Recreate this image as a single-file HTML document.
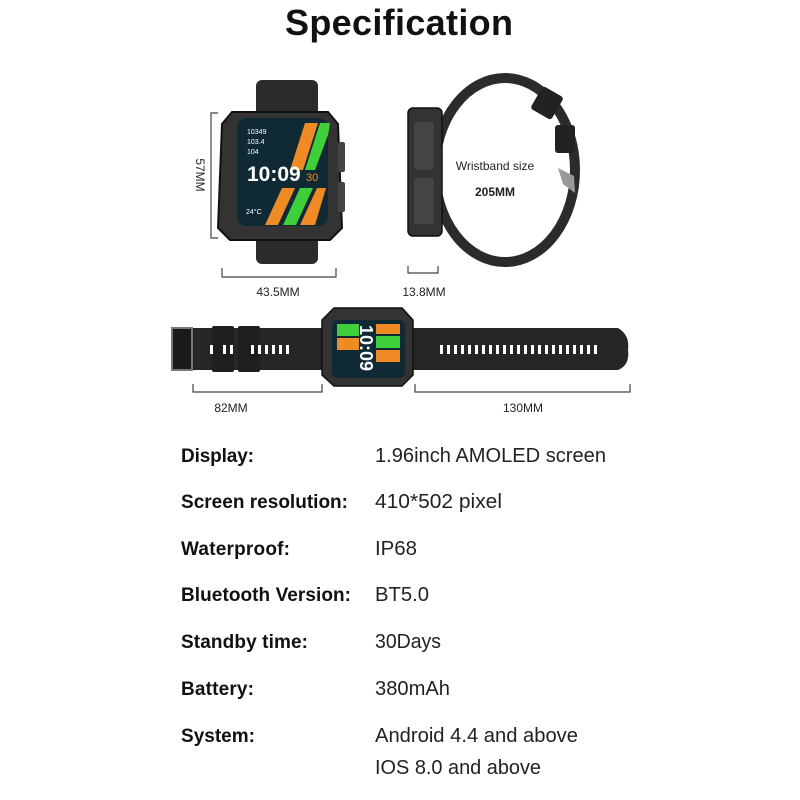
<!DOCTYPE html>
<html><head><meta charset="utf-8"><style>html,body{margin:0;padding:0;background:#fff}svg{display:block}</style></head>
<body>
<svg width="800" height="800" viewBox="0 0 800 800" xmlns="http://www.w3.org/2000/svg" font-family="Liberation Sans, sans-serif">
<rect width="800" height="800" fill="#fff"/>
<text x="399" y="35" text-anchor="middle" font-size="36" font-weight="bold" fill="#111" textLength="228">Specification</text>

<!-- front watch -->
<rect x="256" y="80" width="62" height="36" rx="6" fill="#2b2b2b"/>
<rect x="256" y="232" width="62" height="32" rx="6" fill="#2b2b2b"/>
<path d="M232 112 L328 112 L338 124 L342 228 L330 240 L230 240 L218 228 L222 124 Z" fill="#333" stroke="#111" stroke-width="2"/>
<rect x="338" y="142" width="7" height="30" rx="2" fill="#444"/>
<rect x="338" y="182" width="7" height="30" rx="2" fill="#444"/>
<rect x="237" y="118" width="91" height="108" rx="10" fill="#0f2a35"/>
<polygon points="290,170 305,123 318,123 303,170" fill="#f08a24"/>
<polygon points="305,170 320,123 330,123 328,135 315,170" fill="#3fcf3a"/>
<polygon points="265,225 282,188 295,188 278,225" fill="#f08a24"/>
<polygon points="283,225 300,188 313,188 296,225" fill="#3fcf3a"/>
<polygon points="300,225 317,188 326,188 315,225" fill="#f08a24"/>
<text x="247" y="134" font-size="7" fill="#fff">10349</text>
<text x="247" y="144" font-size="7" fill="#fff">103.4</text>
<text x="247" y="154" font-size="7" fill="#fff">104</text>
<text x="247" y="181" font-size="21" font-weight="bold" fill="#fff">10:09</text>
<text x="306" y="181" font-size="11" fill="#f08a24">30</text>
<text x="246" y="214" font-size="7" fill="#fff">24°C</text>
<!-- 57MM -->
<path d="M218 113 H211 V238 H218" fill="none" stroke="#444" stroke-width="1.2"/>
<text transform="translate(196,175) rotate(90)" text-anchor="middle" font-size="12" fill="#222">57MM</text>
<path d="M222 268 V277 H336 V268" fill="none" stroke="#444" stroke-width="1.2"/>
<text x="278" y="296" text-anchor="middle" font-size="12" fill="#222">43.5MM</text>

<!-- side watch -->
<ellipse cx="505" cy="170" rx="70" ry="92" fill="none" stroke="#2b2b2b" stroke-width="10"/>
<rect x="535" y="90" width="24" height="26" rx="3" fill="#222" transform="rotate(30 547 103)"/>
<rect x="555" y="125" width="20" height="28" rx="3" fill="#222"/>
<polygon points="558,168 574,176 575,193 563,184" fill="#999"/>
<rect x="408" y="108" width="34" height="128" rx="5" fill="#333" stroke="#111" stroke-width="1.5"/>
<rect x="414" y="122" width="20" height="48" rx="3" fill="#444"/>
<rect x="414" y="178" width="20" height="46" rx="3" fill="#444"/>
<text x="495" y="170" text-anchor="middle" font-size="12" fill="#222">Wristband size</text>
<text x="495" y="196" text-anchor="middle" font-size="12" font-weight="bold" fill="#222">205MM</text>
<path d="M408 266 V273 H438 V266" fill="none" stroke="#444" stroke-width="1.2"/>
<text x="424" y="296" text-anchor="middle" font-size="12" fill="#222">13.8MM</text>

<!-- horizontal band -->
<path d="M172 328 H618 Q630 335 628 350 Q630 365 618 370 H172 Z" fill="#262626"/>
<rect x="172" y="328" width="20" height="42" fill="#1a1a1a" stroke="#777" stroke-width="2"/>
<rect x="212" y="326" width="22" height="46" rx="2" fill="#1e1e1e"/>
<rect x="238" y="326" width="22" height="46" rx="2" fill="#1e1e1e"/>
<g fill="#fff">
<rect x="210" y="345" width="3" height="9"/><rect x="223" y="345" width="3" height="9"/><rect x="230" y="345" width="3" height="9"/>
<rect x="251" y="345" width="3" height="9"/><rect x="258" y="345" width="3" height="9"/><rect x="265" y="345" width="3" height="9"/><rect x="272" y="345" width="3" height="9"/><rect x="279" y="345" width="3" height="9"/><rect x="286" y="345" width="3" height="9"/>
</g>
<g fill="#fff">
<rect x="440" y="345" width="3" height="9"/><rect x="447" y="345" width="3" height="9"/><rect x="454" y="345" width="3" height="9"/><rect x="461" y="345" width="3" height="9"/><rect x="468" y="345" width="3" height="9"/><rect x="475" y="345" width="3" height="9"/><rect x="482" y="345" width="3" height="9"/><rect x="489" y="345" width="3" height="9"/><rect x="496" y="345" width="3" height="9"/><rect x="503" y="345" width="3" height="9"/><rect x="510" y="345" width="3" height="9"/><rect x="517" y="345" width="3" height="9"/><rect x="524" y="345" width="3" height="9"/><rect x="531" y="345" width="3" height="9"/><rect x="538" y="345" width="3" height="9"/><rect x="545" y="345" width="3" height="9"/><rect x="552" y="345" width="3" height="9"/><rect x="559" y="345" width="3" height="9"/><rect x="566" y="345" width="3" height="9"/><rect x="573" y="345" width="3" height="9"/><rect x="580" y="345" width="3" height="9"/><rect x="587" y="345" width="3" height="9"/><rect x="594" y="345" width="3" height="9"/>
</g>
<path d="M334 308 L402 308 L413 320 L413 375 L402 386 L334 386 L322 375 L322 320 Z" fill="#333" stroke="#111" stroke-width="1.5"/>
<rect x="332" y="320" width="73" height="58" rx="6" fill="#0f2a35"/>
<rect x="337" y="324" width="22" height="12" fill="#3fcf3a"/>
<rect x="337" y="338" width="22" height="12" fill="#f08a24"/>
<rect x="376" y="324" width="24" height="10" fill="#f08a24"/>
<rect x="376" y="336" width="24" height="12" fill="#3fcf3a"/>
<rect x="376" y="350" width="24" height="12" fill="#f08a24"/>
<text transform="translate(360,325) rotate(90)" font-size="18" font-weight="bold" fill="#fff">10:09</text>
<path d="M193 384 V392 H322 V384" fill="none" stroke="#444" stroke-width="1.2"/>
<text x="231" y="412" text-anchor="middle" font-size="12" fill="#222">82MM</text>
<path d="M415 384 V392 H630 V384" fill="none" stroke="#444" stroke-width="1.2"/>
<text x="523" y="412" text-anchor="middle" font-size="12" fill="#222">130MM</text>

<!-- specs -->
<g font-size="19" fill="#111" font-weight="bold">
<text x="181" y="462" textLength="73">Display:</text>
<text x="181" y="508" textLength="167">Screen resolution:</text>
<text x="181" y="555" textLength="109">Waterproof:</text>
<text x="181" y="601" textLength="170">Bluetooth Version:</text>
<text x="181" y="648" textLength="127">Standby time:</text>
<text x="181" y="695" textLength="73">Battery:</text>
<text x="181" y="742" textLength="74">System:</text>
</g>
<g font-size="20" fill="#222">
<text x="375" y="462" textLength="231" lengthAdjust="spacingAndGlyphs">1.96inch AMOLED screen</text>
<text x="375" y="508" textLength="127" lengthAdjust="spacingAndGlyphs">410*502 pixel</text>
<text x="375" y="555" textLength="42" lengthAdjust="spacingAndGlyphs">IP68</text>
<text x="375" y="601" textLength="54" lengthAdjust="spacingAndGlyphs">BT5.0</text>
<text x="375" y="648" textLength="66" lengthAdjust="spacingAndGlyphs">30Days</text>
<text x="375" y="695" textLength="75" lengthAdjust="spacingAndGlyphs">380mAh</text>
<text x="375" y="742" textLength="203" lengthAdjust="spacingAndGlyphs">Android 4.4 and above</text>
<text x="375" y="774" textLength="166" lengthAdjust="spacingAndGlyphs">IOS 8.0 and above</text>
</g>
</svg>
</body></html>
